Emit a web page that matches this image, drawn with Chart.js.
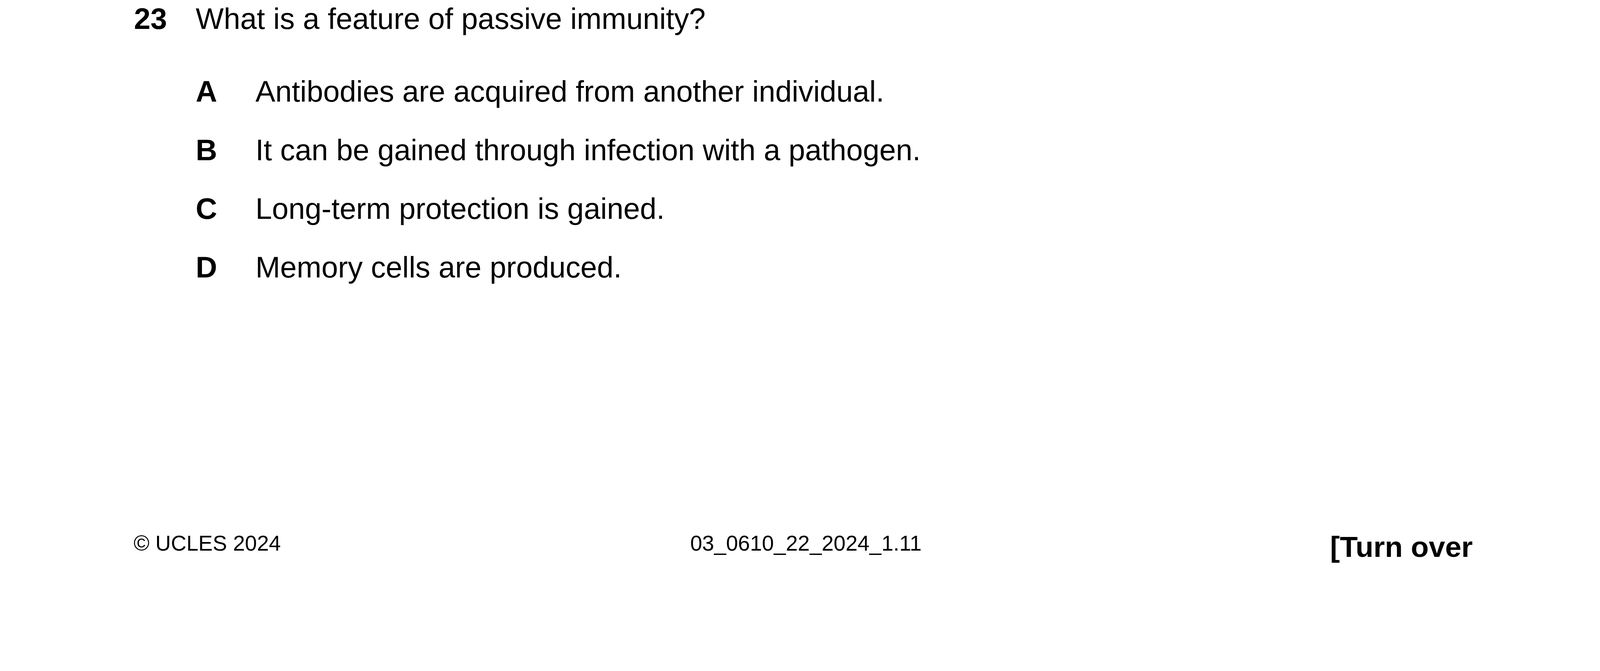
<!DOCTYPE html>
<html>
<head>
<meta charset="utf-8">
<script src="https://cdn.jsdelivr.net/npm/chart.js@4.4.1/dist/chart.umd.min.js"></script>
<style>
  html, body { margin: 0; padding: 0; background: #fff; }
  body { width: 4134px; height: 1717px; position: relative; overflow: hidden;
         font-family: "Liberation Sans", Arial, sans-serif; color: #000; }
  #bg { position: absolute; left: 0; top: 0; width: 4134px; height: 1717px; }
  .t { position: absolute; white-space: nowrap; line-height: 1.117; }
  .b { font-weight: bold; }
</style>
</head>
<body>
<div id="bg"><canvas id="page"></canvas></div>
<div id="text"></div>
<script>
// question content
const questionNumber = "23";
const questionText = "What is a feature of passive immunity?";
const optionLetters = ["A", "B", "C", "D"];
const optionTexts = [
  "Antibodies are acquired from another individual.",
  "It can be gained through infection with a pathogen.",
  "Long-term protection is gained.",
  "Memory cells are produced."
];
const footerLeft = "\u00a9 UCLES 2024";
const footerCentre = "03_0610_22_2024_1.11";
const footerRight = "[Turn over";

// empty chart as the page surface
new Chart(document.getElementById("page"), {
  type: "bar",
  data: { labels: [], datasets: [] },
  options: {
    responsive: true,
    maintainAspectRatio: false,
    animation: false,
    plugins: { legend: { display: false }, tooltip: { enabled: false } },
    scales: { x: { display: false }, y: { display: false } }
  }
});

const box = document.getElementById("text");
// place text so its baseline sits at y
const put = (txt, x, baseline, size, bold) => {
  const d = document.createElement("div");
  d.className = "t" + (bold ? " b" : "");
  d.style.fontSize = size + "px";
  d.style.left = x + "px";
  d.style.top = (baseline - size * 0.905) + "px";
  d.textContent = txt;
  box.appendChild(d);
};

put(questionNumber, 343, 75, 76, true);
put(questionText, 501, 75, 76, false);
optionLetters.forEach((l, i) => {
  put(l, 501, 261 + i * 150, 76, true);
  put(optionTexts[i], 654, 261 + i * 150, 76, false);
});
put(footerLeft, 342, 1410, 55, false);
put(footerCentre, 1767, 1410, 55, false);
put(footerRight, 3405, 1426, 75, true);
</script>
</body>
</html>
